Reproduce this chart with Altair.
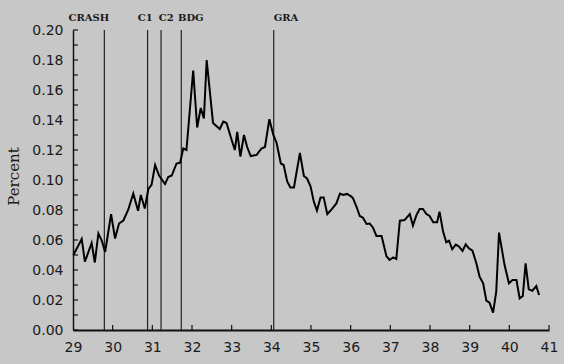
import altair as alt
import pandas as pd

# Monthly series (year - 1900, percent)
years = [29.01, 29.22, 29.30, 29.47, 29.55, 29.64, 29.72, 29.81, 29.96, 30.06,
         30.16, 30.27, 30.39, 30.52, 30.64, 30.71, 30.81, 30.90, 30.98, 31.07,
         31.17, 31.32, 31.40, 31.49, 31.61, 31.70, 31.78, 31.86, 32.03, 32.13,
         32.22, 32.30, 32.37, 32.53, 32.70, 32.79, 32.87, 33.00, 33.08, 33.14,
         33.22, 33.31, 33.39, 33.48, 33.63, 33.75, 33.84, 33.95, 34.05, 34.13,
         34.24, 34.31, 34.40, 34.48, 34.57, 34.72, 34.82, 34.90, 34.99, 35.07,
         35.15, 35.24, 35.32, 35.41, 35.52, 35.64, 35.73, 35.81, 35.91, 36.02,
         36.06, 36.15, 36.23, 36.31, 36.40, 36.48, 36.56, 36.65, 36.78, 36.90,
         36.98, 37.07, 37.15, 37.24, 37.36, 37.49, 37.57, 37.66, 37.74, 37.82,
         37.91, 37.99, 38.08, 38.18, 38.24, 38.33, 38.41, 38.48, 38.56, 38.65,
         38.73, 38.82, 38.90, 38.98, 39.07, 39.17, 39.25, 39.34, 39.42, 39.50,
         39.59, 39.67, 39.74, 39.80, 39.88, 39.99, 40.08, 40.18, 40.26, 40.34,
         40.41, 40.49, 40.58, 40.68, 40.75]
percent = [0.0500, 0.0607, 0.0455, 0.0580, 0.0450, 0.0644, 0.0600, 0.0520, 0.0773, 0.0610,
           0.0710, 0.0730, 0.0800, 0.0910, 0.0795, 0.0900, 0.0810, 0.0940, 0.0967, 0.1100,
           0.1030, 0.0973, 0.1020, 0.1030, 0.1110, 0.1115, 0.1210, 0.1200, 0.1730, 0.1350,
           0.1480, 0.1410, 0.1800, 0.1380, 0.1340, 0.1390, 0.1380, 0.1267, 0.1200, 0.1320,
           0.1156, 0.1300, 0.1220, 0.1160, 0.1167, 0.1210, 0.1220, 0.1405, 0.1300, 0.1250,
           0.1110, 0.1100, 0.0990, 0.0950, 0.0950, 0.1180, 0.1027, 0.1010, 0.0956, 0.0856,
           0.0796, 0.0884, 0.0884, 0.0773, 0.0804, 0.0844, 0.0910, 0.0900, 0.0907, 0.0889,
           0.0878, 0.0820, 0.0760, 0.0749, 0.0707, 0.0710, 0.0684, 0.0627, 0.0627, 0.0493,
           0.0467, 0.0484, 0.0473, 0.0729, 0.0733, 0.0773, 0.0696, 0.0767, 0.0807, 0.0807,
           0.0773, 0.0760, 0.0718, 0.0718, 0.0789, 0.0656, 0.0585, 0.0595, 0.0538, 0.0569,
           0.0556, 0.0527, 0.0571, 0.0545, 0.0529, 0.0444, 0.0356, 0.0311, 0.0196, 0.0182,
           0.0116, 0.0256, 0.0649, 0.0556, 0.0433, 0.0311, 0.0333, 0.0333, 0.0211, 0.0227,
           0.0444, 0.0271, 0.0262, 0.0293, 0.0233]

# Events
event_names = ["CRASH", "C1", "C2", "BDG", "GRA"]
event_x = [29.79, 30.88, 31.22, 31.73, 34.06]
event_label_x = [29.40, 30.82, 31.35, 31.97, 34.37]

# Axis ticks
x_ticks = [29, 30, 31, 32, 33, 34, 35, 36, 37, 38, 39, 40, 41]
y_ticks = [0.00, 0.02, 0.04, 0.06, 0.08, 0.10, 0.12, 0.14, 0.16, 0.18, 0.20]
y_minor = [round(i * 0.01, 2) for i in range(0, 21)]

series = pd.DataFrame({"year": years, "pct": percent})
events = pd.DataFrame({"name": event_names, "x": event_x, "lx": event_label_x})
xt = pd.DataFrame({"v": x_ticks[1:]})
yt = pd.DataFrame({"v": y_minor})

xscale = alt.Scale(domain=[29, 41], nice=False, zero=False)
yscale = alt.Scale(domain=[0, 0.2], nice=False)

xaxis = alt.Axis(values=x_ticks, format="d", title=None, ticks=False, grid=False,
                 domain=True, domainColor="#111", domainWidth=1.8,
                 labelFont="DejaVu Sans", labelFontSize=14, labelColor="#1a1a1a",
                 labelPadding=10, labelOverlap=False, labelFlush=False)
yaxis = alt.Axis(values=y_ticks, format=".2f", title="Percent", ticks=False, grid=False,
                 domain=True, domainColor="#111", domainWidth=1.5,
                 labelFont="DejaVu Sans", labelFontSize=14, labelColor="#1a1a1a",
                 labelPadding=10, labelOverlap=False, labelFlush=False,
                 titleFont="DejaVu Serif", titleFontSize=15,
                 titleFontWeight="normal", titleColor="#1a1a1a",
                 titleX=-60, titleY=146, titleAngle=-90, titleAlign="center",
                 titleBaseline="middle")

line = alt.Chart(series).mark_line(color="#000", strokeWidth=2).encode(
    x=alt.X("year:Q", scale=xscale, axis=xaxis),
    y=alt.Y("pct:Q", scale=yscale, axis=yaxis),
)

vlines = alt.Chart(events).mark_rule(color="#222", strokeWidth=1.2).encode(
    x=alt.X("x:Q", scale=xscale, axis=xaxis),
    y=alt.value(0),
    y2=alt.value(300),
)

labels = alt.Chart(events).mark_text(
    font="DejaVu Serif", fontSize=10, fontWeight="bold", color="#1a1a1a",
    baseline="alphabetic", align="center"
).encode(
    x=alt.X("lx:Q", scale=xscale, axis=xaxis),
    y=alt.value(-9),
    text="name:N",
)

xticks = alt.Chart(xt).mark_rule(color="#111", strokeWidth=1.2).encode(
    x=alt.X("v:Q", scale=xscale, axis=xaxis),
    y=alt.value(300),
    y2=alt.value(295),
)

yticks = alt.Chart(yt).mark_rule(color="#111", strokeWidth=1.2).encode(
    y=alt.Y("v:Q", scale=yscale, axis=yaxis),
    x=alt.value(0),
    x2=alt.value(5),
)

chart = alt.layer(vlines, xticks, yticks, line, labels).properties(
    width=476, height=300,
    autosize=alt.AutoSizeParams(type="none"),
    padding={"left": 73, "top": 30, "right": 15, "bottom": 34},
    background="#c7c7c7",
).configure_view(stroke=None)

chart.save("out.html", embed_options={"renderer": "svg", "actions": False})
